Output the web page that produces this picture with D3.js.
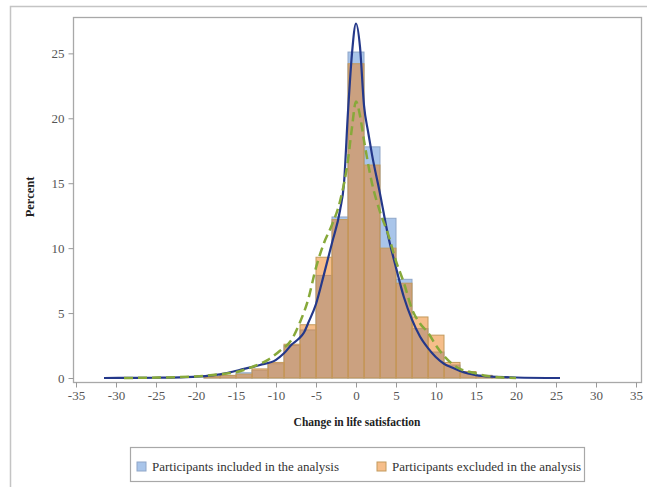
<!DOCTYPE html>
<html>
<head>
<meta charset="utf-8">
<script src="https://cdn.jsdelivr.net/npm/d3@7"></script>
<style>
  html, body { margin: 0; padding: 0; background: #fff; }
  svg { display: block; }
</style>
</head>
<body>
<svg id="chart" width="647" height="487"></svg>
<script>
// Histogram bins (width 2, labelled by centre) for change in life satisfaction
const binCenters = [-18, -16, -14, -12, -10, -8, -6, -4, -2, 0, 2, 4, 6, 8, 10, 12, 14, 16, 18];
const includedPct = [0.1, 0.2, 0.4, 0.6, 1.1, 2.5, 3.7, 7.9, 12.4, 25.1, 17.8, 12.3, 7.6, 3.8, 2.0, 1.0, 0.4, 0.2, 0.1];
const excludedPct = [0.1, 0.2, 0.3, 0.7, 1.2, 2.6, 4.1, 9.3, 12.2, 24.2, 16.4, 10.0, 7.3, 4.7, 3.3, 1.2, 0.5, 0.2, 0.1];

// Kernel density curves (x, percent)
const includedDensityX = [-31.5, -28, -25, -22, -20, -18, -16, -14, -12, -10, -9, -8, -7.2, -6.5, -6, -5, -4, -3, -2, -1.5, -1, -0.5, 0, 0.5, 1, 1.5, 2, 3, 4, 5, 6, 7, 8, 9, 10, 11, 12, 13, 14, 15, 17, 20, 25.5];
const includedDensityY = [0, 0.01, 0.02, 0.05, 0.1, 0.2, 0.4, 0.7, 1.0, 1.4, 1.9, 2.6, 3.0, 3.5, 4.2, 5.7, 8.0, 10.4, 12.9, 15.0, 20.5, 25.0, 27.3, 25.5, 21.0, 19.0, 17.2, 14.2, 11.0, 8.5, 6.2, 4.5, 3.2, 2.3, 1.6, 1.1, 0.8, 0.55, 0.35, 0.22, 0.1, 0.04, 0];
const excludedDensityX = [-29, -25, -20, -17, -15, -13, -11, -9.5, -8, -7, -6, -5, -4, -3, -2, -1, -0.5, 0, 0.5, 1, 2, 3, 4, 5, 6, 7, 8, 9, 10, 11, 12, 13, 14, 15, 16, 17, 18, 20];
const excludedDensityY = [0, 0.03, 0.12, 0.3, 0.45, 0.85, 1.4, 2.1, 3.0, 4.3, 6.0, 8.5, 10.4, 11.8, 13.6, 16.8, 19.3, 21.3, 20.2, 18.3, 15.0, 12.8, 11.1, 9.0, 7.3, 5.3, 4.2, 3.5, 2.5, 1.7, 1.1, 0.7, 0.5, 0.35, 0.2, 0.1, 0.05, 0];

const xTicks = [-35, -30, -25, -20, -15, -10, -5, 0, 5, 10, 15, 20, 25, 30, 35];
const yTicks = [0, 5, 10, 15, 20, 25];
const legendLabels = ["Participants included in the analysis", "Participants excluded in the analysis"];

const binWidth = 2;
const serif = "'Liberation Serif', 'Times New Roman', serif";

const svg = d3.select("#chart");

// outer panel border
svg.append("path")
  .attr("d", "M10.5,487 L10.5,6.5 L647,6.5")
  .attr("fill", "none").attr("stroke", "#c4c4c4").attr("stroke-width", 1.5);

const x = d3.scaleLinear().domain([-35, 35]).range([76, 636]);
const y = d3.scaleLinear().domain([0, 27.8]).range([378, 17]);

const frame = { left: 73, top: 17, right: 641, bottom: 382 };

// bars: included (blue) first, excluded (orange) drawn over it
const bars = svg.append("g");
bars.selectAll("rect.inc").data(binCenters).join("rect")
  .attr("class", "inc")
  .attr("x", (d) => x(d - binWidth / 2))
  .attr("width", (d) => x(d + binWidth / 2) - x(d - binWidth / 2))
  .attr("y", (d, i) => y(includedPct[i]))
  .attr("height", (d, i) => y(0) - y(includedPct[i]))
  .attr("fill", "rgb(83,139,213)").attr("fill-opacity", 0.5)
  .attr("stroke", "#8fa6c8").attr("stroke-width", 1);
bars.selectAll("rect.exc").data(binCenters).join("rect")
  .attr("class", "exc")
  .attr("x", (d) => x(d - binWidth / 2))
  .attr("width", (d) => x(d + binWidth / 2) - x(d - binWidth / 2))
  .attr("y", (d, i) => y(excludedPct[i]))
  .attr("height", (d, i) => y(0) - y(excludedPct[i]))
  .attr("fill", "rgb(237,125,21)").attr("fill-opacity", 0.5)
  .attr("stroke", "#c39a5c").attr("stroke-width", 1);

// density curves
const line = d3.line().x((d) => x(d[0])).y((d) => y(d[1])).curve(d3.curveMonotoneX);
svg.append("path")
  .datum(includedDensityX.map((v, i) => [v, includedDensityY[i]]))
  .attr("d", line).attr("fill", "none")
  .attr("stroke", "#24388a").attr("stroke-width", 2.2);
svg.append("path")
  .datum(excludedDensityX.map((v, i) => [v, excludedDensityY[i]]))
  .attr("d", line).attr("fill", "none")
  .attr("stroke", "#87a93a").attr("stroke-width", 2.5)
  .attr("stroke-dasharray", "9,5");

// plot frame
svg.append("rect")
  .attr("x", frame.left + 0.5).attr("y", frame.top + 0.5)
  .attr("width", frame.right - frame.left).attr("height", frame.bottom - frame.top)
  .attr("fill", "none").attr("stroke", "#a8a8a8").attr("stroke-width", 1.3);

// x axis (plain hyphen for negatives)
const xAxis = svg.append("g").attr("transform", `translate(0,${frame.bottom + 0.5})`)
  .call(d3.axisBottom(x).tickValues(xTicks).tickFormat((d) => String(d)).tickSize(5).tickPadding(3));
xAxis.select(".domain").remove();
xAxis.selectAll("line").attr("stroke", "#999");
xAxis.selectAll("text")
  .style("font-family", serif).style("font-size", "13px").style("fill", "#555");

// y axis
const yAxis = svg.append("g").attr("transform", `translate(${frame.left + 0.5},0)`)
  .call(d3.axisLeft(y).tickValues(yTicks).tickFormat((d) => String(d)).tickSize(5).tickPadding(4));
yAxis.select(".domain").remove();
yAxis.selectAll("line").attr("stroke", "#999");
yAxis.selectAll("text")
  .style("font-family", serif).style("font-size", "13px").style("fill", "#555");

// axis titles
svg.append("text")
  .attr("x", 357).attr("y", 426).attr("text-anchor", "middle")
  .style("font-family", serif).style("font-size", "11.5px").style("font-weight", "bold").style("fill", "#222")
  .text("Change in life satisfaction");
svg.append("text")
  .attr("transform", "translate(34,197) rotate(-90)").attr("text-anchor", "middle")
  .style("font-family", serif).style("font-size", "12.5px").style("font-weight", "bold").style("fill", "#222")
  .text("Percent");

// legend
const legend = svg.append("g");
legend.append("rect")
  .attr("x", 130.5).attr("y", 447.5).attr("width", 454).attr("height", 34)
  .attr("fill", "#fff").attr("stroke", "#a8a8a8").attr("stroke-width", 1.2);
const legendItems = [
  { x: 137, fill: "rgb(83,139,213)", stroke: "#8fa6c8" },
  { x: 377, fill: "rgb(237,125,21)", stroke: "#c39a5c" }
];
legendItems.forEach((it, i) => {
  legend.append("rect")
    .attr("x", it.x).attr("y", 462).attr("width", 9).attr("height", 9)
    .attr("fill", it.fill).attr("fill-opacity", 0.5)
    .attr("stroke", it.stroke).attr("stroke-width", 1);
  legend.append("text")
    .attr("x", it.x + 15).attr("y", 470.5)
    .style("font-family", serif).style("font-size", "13px").style("fill", "#333")
    .text(legendLabels[i]);
});
</script>
</body>
</html>
